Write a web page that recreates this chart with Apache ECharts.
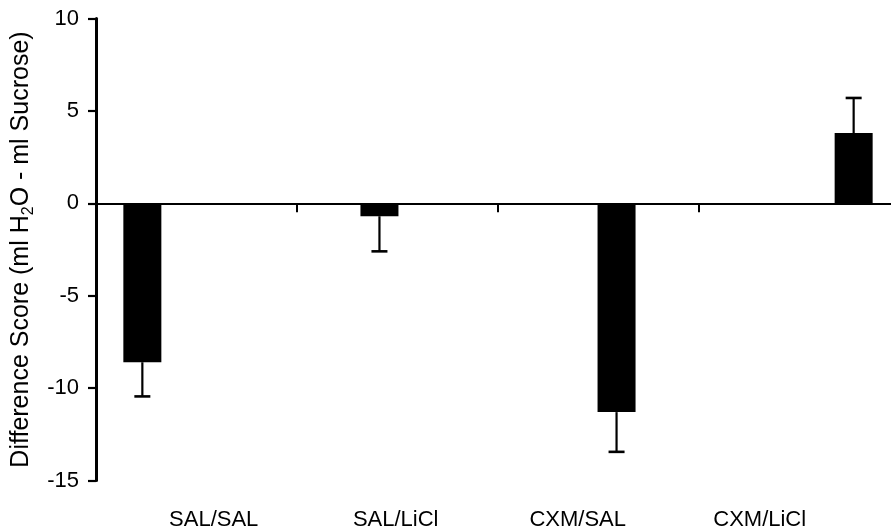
<!DOCTYPE html>
<html>
<head>
<meta charset="utf-8">
<script src="https://cdn.jsdelivr.net/npm/echarts@6/dist/echarts.min.js"></script>
<style>
  html, body { margin: 0; padding: 0; background: #fff; overflow: hidden; }
  /* the plot runs a little past the right edge of the page */
  #chart { width: 900px; height: 531px; }
</style>
</head>
<body>
<div id="chart"></div>
<script>
// Group labels and results (mean difference score, SEM)
const groups = ['SAL/SAL', 'SAL/LiCl', 'CXM/SAL', 'CXM/LiCl'];
const means = [-8.6, -0.7, -11.3, 3.8];
const sems = [1.85, 1.9, 2.15, 1.9];
const yTicks = [-15, -10, -5, 0, 5, 10];

const FONT = '"Liberation Sans", Arial, Helvetica, sans-serif';
const BAR_W = 38;          // px
const BAR_GAP = -0.05;     // fraction of bar width

// one bar series per group, each holding a value only in its own category
const barSeries = groups.map((g, i) => ({
  name: g,
  type: 'bar',
  xAxisIndex: 0,
  yAxisIndex: 0,
  barWidth: BAR_W,
  barGap: (BAR_GAP * 100) + '%',
  itemStyle: { color: '#000' },
  silent: true,
  data: groups.map((_, c) => (c === i ? means[i] : '-'))
}));

// error bars drawn away from zero at each bar's centre
const errData = groups.map((g, i) => [i, means[i], sems[i]]);
const nSeries = groups.length;
const errSeries = {
  type: 'custom',
  xAxisIndex: 0,
  yAxisIndex: 0,
  silent: true,
  z: 1,
  data: errData,
  renderItem: function (params, api) {
    const c = api.value(0);
    const m = api.value(1);
    const e = api.value(2);
    const gap = BAR_W * BAR_GAP;
    const total = nSeries * BAR_W + (nSeries - 1) * gap;
    const slot = c; // series index equals category index
    const base = api.coord([c, m]);
    const cx = base[0] - total / 2 + slot * (BAR_W + gap) + BAR_W / 2;
    const end = api.coord([c, m + (m < 0 ? -e : e)])[1];
    const half = 8;
    const style = { stroke: '#000', lineWidth: 2.2 };
    return {
      type: 'group',
      children: [
        { type: 'line', shape: { x1: cx, y1: base[1], x2: cx, y2: end }, style: style },
        { type: 'line', shape: { x1: cx - half, y1: end, x2: cx + half, y2: end }, style: { stroke: '#000', lineWidth: 2.6 } }
      ]
    };
  }
};

const chart = echarts.init(document.getElementById('chart'), null, { renderer: 'canvas' });
chart.setOption({
  animation: false,
  backgroundColor: '#fff',
  textStyle: { fontFamily: FONT, color: '#000' },
  grid: [
    { left: 96, right: 0, top: 18.5, bottom: 50.5 },
    { left: 122.7, width: 728, top: 400, height: 100 }
  ],
  xAxis: [
    {
      type: 'category',
      gridIndex: 0,
      data: groups,
      boundaryGap: true,
      axisLine: { onZero: true, lineStyle: { color: '#000', width: 2.2 } },
      axisTick: { show: true, length: 9, interval: 0, lineStyle: { color: '#000', width: 2 } },
      axisLabel: { show: false },
      splitLine: { show: false }
    },
    {
      type: 'category',
      gridIndex: 1,
      data: groups,
      position: 'bottom',
      axisLine: { show: false },
      axisTick: { show: false },
      axisLabel: { interval: 0, margin: 12, fontSize: 22, fontFamily: FONT, color: '#000' },
      splitLine: { show: false }
    }
  ],
  yAxis: [
    {
      type: 'value',
      gridIndex: 0,
      min: yTicks[0],
      max: yTicks[yTicks.length - 1],
      interval: 5,
      axisLine: { show: true, lineStyle: { color: '#000', width: 3 } },
      axisTick: { show: true, length: 8, lineStyle: { color: '#000', width: 2.2 } },
      axisLabel: { margin: 17, fontSize: 22, fontFamily: FONT, color: '#000' },
      splitLine: { show: false },
      name: 'Difference Score (ml H{sub|2}O - ml Sucrose)',
      nameLocation: 'middle',
      nameRotate: 90,
      nameGap: 56,
      nameTextStyle: {
        fontSize: 25,
        fontFamily: FONT,
        color: '#000',
        rich: {
          sub: { fontSize: 16, fontFamily: FONT, color: '#000', lineHeight: 31, verticalAlign: 'bottom' }
        }
      }
    },
    {
      type: 'value',
      gridIndex: 1,
      show: false
    }
  ],
  series: barSeries.concat([errSeries])
});
</script>
</body>
</html>
